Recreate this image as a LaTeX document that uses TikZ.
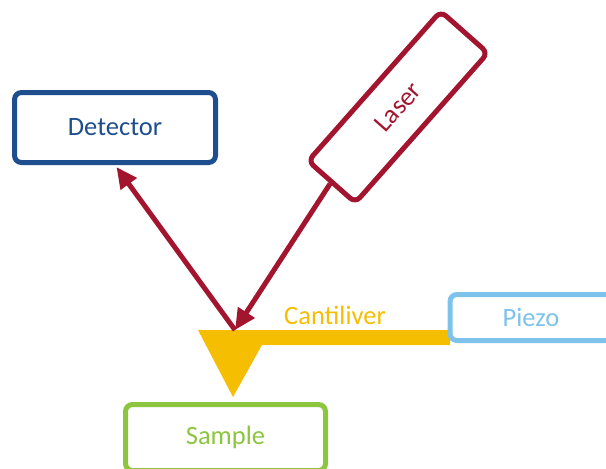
\documentclass[tikz,border=0pt]{standalone}
\usepackage{fontspec}
\setmainfont{Carlito}
\usetikzlibrary{arrows.meta}
\definecolor{detblue}{HTML}{1F4E8F}
\definecolor{lasred}{HTML}{A3142F}
\definecolor{cantgold}{HTML}{F5BE00}
\definecolor{piezoblue}{HTML}{7DC3EB}
\definecolor{samgreen}{HTML}{8CC63F}
\tikzset{
  boxnode/.style={draw, line width=5pt, rounded corners=7pt, fill=white, inner sep=0pt, font=\fontsize{26.5}{31}\selectfont},
  beam/.style={draw=lasred, line width=5pt, -{Triangle[length=21pt,width=19pt]}}
}
\begin{document}
\begin{tikzpicture}[x=1pt,y=1pt]
\useasboundingbox (0,0) rectangle (606,-469);
% cantilever
\fill[cantgold] (198,-330) -- (450,-330) -- (450,-345) -- (262,-345) -- (233,-397) -- cycle;
\node[font=\fontsize{26.5}{31}\selectfont, text=cantgold] (cant) at (335,-315) {Cantiliver};
% boxes
\node[boxnode, draw=detblue, text=detblue, minimum width=201pt, minimum height=70pt] (det) at (115,-127.5) {Detector};
\node[boxnode, draw=lasred, text=lasred, minimum width=200pt, minimum height=63pt, rotate=48.5] (laser) at (398,-107) {Laser};
\node[boxnode, draw=piezoblue, text=piezoblue, minimum width=162pt, minimum height=46pt] (piezo) at (531,-317.5) {Piezo};
\node[boxnode, draw=samgreen, text=samgreen, minimum width=200pt, minimum height=66pt] (sample) at (225.5,-437.5) {Sample};
% beams
\coordinate (tip) at (235,-330);
\draw[beam] (laser.west) -- (tip);
\draw[beam, shorten >=2.5pt] (tip) -- (det.south);
\end{tikzpicture}
\end{document}
